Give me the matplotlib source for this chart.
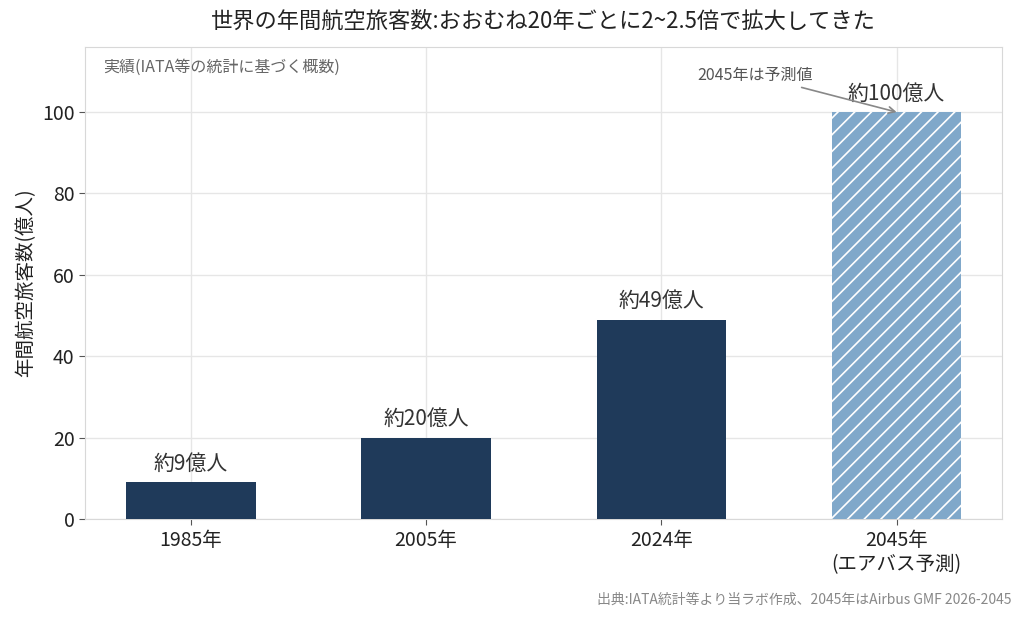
import matplotlib.pyplot as plt

plt.rcParams['font.family'] = ['Noto Sans CJK JP', 'DejaVu Sans']
plt.rcParams['hatch.linewidth'] = 1.2

years = ['1985年', '2005年', '2024年', '2045年\n(エアバス予測)']
passengers = [9, 20, 49, 100]
value_labels = ['約9億人', '約20億人', '約49億人', '約100億人']
is_forecast = [False, False, False, True]

fig, ax = plt.subplots(figsize=(10.24, 6.18), dpi=100)
fig.subplots_adjust(left=0.083, right=0.979, top=0.924, bottom=0.16)

x = list(range(len(years)))
for i, (v, fc) in enumerate(zip(passengers, is_forecast)):
    if fc:
        ax.bar(i, v, width=0.55, color='#80a8ca', hatch='//', edgecolor='white',
               linewidth=0, zorder=3)
    else:
        ax.bar(i, v, width=0.55, color='#1f3a5a', zorder=3)
    ax.text(i, v + 1.8, value_labels[i], ha='center', va='bottom', fontsize=15,
            color='#333333')

ax.set_xticks(x)
ax.set_xticklabels(years, fontsize=14, color='#222222')
ax.set_xlim(-0.45, 3.45)
ax.set_ylim(0, 116)
ax.set_yticks(range(0, 101, 20))
ax.tick_params(axis='y', labelsize=14, colors='#222222')
ax.tick_params(axis='both', color='#555555', length=4)
ax.set_ylabel('年間航空旅客数(億人)', fontsize=14, color='#222222')
ax.grid(True, color='#e6e6e6', linewidth=1, zorder=0)
for s in ax.spines.values():
    s.set_color('#d8d8d8')

ax.set_title('世界の年間航空旅客数:おおむね20年ごとに2~2.5倍で拡大してきた',
             fontsize=16, pad=14, color='#222222')

ax.text(0.02, 0.975, '実績(IATA等の統計に基づく概数)', transform=ax.transAxes,
        ha='left', va='top', fontsize=11.5, color='#666666')

ax.annotate('2045年は予測値', xy=(3, passengers[3]), xytext=(2.40, 109),
            ha='center', va='center', fontsize=11.5, color='#555555',
            arrowprops=dict(arrowstyle='->', color='#888888', lw=1.2,
                            shrinkA=2, shrinkB=0))

fig.text(0.988, 0.018, '出典:IATA統計等より当ラボ作成、2045年はAirbus GMF 2026-2045',
         ha='right', va='bottom', fontsize=10, color='#888888')

fig.savefig('out.png', dpi=100)
